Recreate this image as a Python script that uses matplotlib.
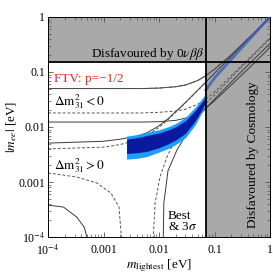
import numpy as np
import matplotlib
matplotlib.use("Agg")
import matplotlib.pyplot as plt
from matplotlib.ticker import FixedLocator, FixedFormatter, LogLocator, NullFormatter

plt.rcParams['font.family'] = ['Liberation Serif', 'DejaVu Serif']
plt.rcParams['mathtext.fontset'] = 'stix'

# bounds
bb_bound = 0.15     # 0vbb limit on |m_ee|
cosmo_bound = 0.07  # cosmology limit on m_lightest

# inverted ordering (Delta m^2_31 < 0)
io_x = [1e-4, 0.005, 0.01, 0.02, 0.03, 0.05, 0.07, 0.1, 0.2, 0.5, 1.0]
io_max = [0.050, 0.050, 0.051, 0.054, 0.058, 0.070, 0.086, 0.112, 0.205, 0.50, 1.0]
io_min_3s = [0.018, 0.018, 0.0185, 0.0195, 0.021, 0.026, 0.032, 0.043, 0.085, 0.21, 0.42]
io_min_best = [0.0123, 0.0123, 0.0125, 0.0132, 0.0145, 0.0178, 0.022, 0.030, 0.058, 0.14, 0.28]

# normal ordering (Delta m^2_31 > 0), upper branch
no_x = [1e-4, 0.001, 0.002, 0.004, 0.006, 0.01, 0.015, 0.02, 0.03, 0.05, 0.07, 0.1, 0.3, 1.0]
no_max_best = [0.0051, 0.0055, 0.006, 0.0068, 0.0078, 0.0105, 0.0145, 0.019, 0.028, 0.047, 0.066, 0.095, 0.29, 0.97]
no_max_3s = [0.0040, 0.0043, 0.0048, 0.0058, 0.0070, 0.0098, 0.014, 0.0185, 0.0275, 0.046, 0.065, 0.094, 0.29, 0.97]

# normal ordering, lower branch (left piece, going to zero)
no_lo_best_x = [1e-4, 1.9e-4, 3.3e-4, 4.5e-4, 5.0e-4, 5.3e-4]
no_lo_best_y = [0.00038, 0.00035, 0.00023, 0.00015, 0.0001, 0.00005]
no_lo_3s_x = [1e-4, 3.3e-4, 7.6e-4, 0.00136, 0.0019, 0.0021, 0.00215]
no_lo_3s_y = [0.00146, 0.00123, 0.00096, 0.00063, 0.00035, 0.0001, 0.00005]

# normal ordering, lower branch (right piece, rising again)
no_up_best_x = [0.0118, 0.0122, 0.0145, 0.021, 0.032, 0.041, 0.05, 0.07, 0.1, 0.3, 1.0]
no_up_best_y = [0.00005, 0.00041, 0.0016, 0.0038, 0.0078, 0.0115, 0.015, 0.022, 0.032, 0.10, 0.33]
no_up_3s_x = [0.0076, 0.0085, 0.0104, 0.0138, 0.0194, 0.03, 0.05, 0.07, 0.1, 0.3, 1.0]
no_up_3s_y = [0.00005, 0.00041, 0.00123, 0.0028, 0.0058, 0.0105, 0.019, 0.027, 0.038, 0.12, 0.40]

# FTV p=-1/2 prediction bands
band_x = [0.0026, 0.004, 0.006, 0.01, 0.015, 0.02, 0.03, 0.045, 0.06, 0.07]
band_out_hi = [0.0068, 0.0073, 0.0080, 0.0089, 0.0102, 0.0116, 0.0150, 0.023, 0.033, 0.042]
band_out_lo = [0.0026, 0.0027, 0.0029, 0.0035, 0.0041, 0.0048, 0.0064, 0.0110, 0.0190, 0.026]
band_in_hi = [0.0060, 0.0064, 0.0070, 0.0078, 0.0089, 0.0101, 0.0130, 0.0200, 0.029, 0.037]
band_in_lo = [0.0033, 0.0034, 0.0036, 0.0042, 0.0050, 0.0058, 0.0077, 0.0130, 0.021, 0.029]
ftv_x = [0.07, 0.1, 0.2, 0.5, 1.0]
ftv_y = [0.047, 0.078, 0.17, 0.47, 1.0]

xticks = [1e-4, 1e-3, 1e-2, 1e-1, 1]
xlabels = ['10$^{-4}$', '0.001', '0.01', '0.1', '1']
yticks = [1e-4, 1e-3, 1e-2, 1e-1, 1]
ylabels = ['10$^{-4}$', '0.001', '0.01', '0.1', '1']

fig = plt.figure(figsize=(2.73, 2.74), dpi=100)
ax = fig.add_axes([0.176, 0.135, 0.813, 0.803])
ax.set_xscale('log')
ax.set_yscale('log')
ax.set_xlim(1e-4, 1)
ax.set_ylim(1e-4, 1)

grey = '#a9a9a9'
ax.axhspan(bb_bound, 1, color=grey, lw=0, zorder=0)
ax.axvspan(cosmo_bound, 1, color=grey, lw=0, zorder=0)

sol = dict(color='#3a3a3a', lw=0.7, zorder=2)
das = dict(color='#555555', lw=0.7, ls=(0, (3, 2)), zorder=2)

ax.plot(io_x, io_max, **sol)
ax.plot(io_x, io_max, **das)
ax.plot(io_x, io_min_3s, **das)
ax.plot(io_x, io_min_best, **sol)
ax.plot(no_x, no_max_best, **sol)
ax.plot(no_x, no_max_3s, **das)
ax.plot(no_lo_best_x, no_lo_best_y, **sol)
ax.plot(no_lo_3s_x, no_lo_3s_y, **das)
ax.plot(no_up_best_x, no_up_best_y, **sol)
ax.plot(no_up_3s_x, no_up_3s_y, **das)

ax.fill_between(band_x, band_out_lo, band_out_hi, color='#1a9fff', lw=0, zorder=3)
ax.fill_between(band_x, band_in_lo, band_in_hi, color='#0a1aa0', lw=0, zorder=4)
ax.plot(ftv_x, ftv_y, color='#3a5fc0', lw=2, alpha=0.8, zorder=4)

ax.axhline(bb_bound, color='k', lw=1.3, zorder=5)
ax.axvline(cosmo_bound, color='k', lw=1.3, zorder=5)

fs = 9.5
ax.text(0.066, 0.21, r'Disfavoured by 0$\nu\beta\beta$', ha='right', va='center', fontsize=fs)
ax.text(1.3e-4, 0.074, 'FTV: p=\u22121/2', color='#ff2020', ha='left', va='center', fontsize=fs)
ax.text(1.3e-4, 0.029, r'$\Delta\mathrm{m}^2_{31} < 0$', ha='left', va='center', fontsize=fs)
ax.text(1.3e-4, 0.0020, r'$\Delta\mathrm{m}^2_{31} > 0$', ha='left', va='center', fontsize=fs)
ax.text(0.0145, 0.00019, 'Best\n& 3$\\sigma$', ha='left', va='center', fontsize=fs, linespacing=0.85)
ax.text(0.49, 0.0031, 'Disfavoured by Cosmology', rotation=90, ha='center', va='center', fontsize=fs)

ax.xaxis.set_major_locator(FixedLocator(xticks))
ax.xaxis.set_major_formatter(FixedFormatter(xlabels))
ax.yaxis.set_major_locator(FixedLocator(yticks))
ax.yaxis.set_major_formatter(FixedFormatter(ylabels))
ax.xaxis.set_minor_locator(LogLocator(base=10, subs=np.arange(2, 10)))
ax.yaxis.set_minor_locator(LogLocator(base=10, subs=np.arange(2, 10)))
ax.xaxis.set_minor_formatter(NullFormatter())
ax.yaxis.set_minor_formatter(NullFormatter())
ax.tick_params(which='both', direction='in', top=True, right=True, labelsize=8.5, color='#555555')
ax.tick_params(which='major', length=3.5, width=0.6)
ax.tick_params(axis='x', which='major', pad=5)
ax.tick_params(axis='y', which='major', pad=2)
ax.tick_params(which='minor', length=2, width=0.5)
for s in ax.spines.values():
    s.set_linewidth(0.7)

ax.set_xlabel(r'$m_{\rm lightest}$ [eV]', fontsize=fs, labelpad=-1)
ax.set_ylabel(r'$|m_{ee}|$ [eV]', fontsize=fs, labelpad=0)

fig.savefig('out.png', dpi=100)
